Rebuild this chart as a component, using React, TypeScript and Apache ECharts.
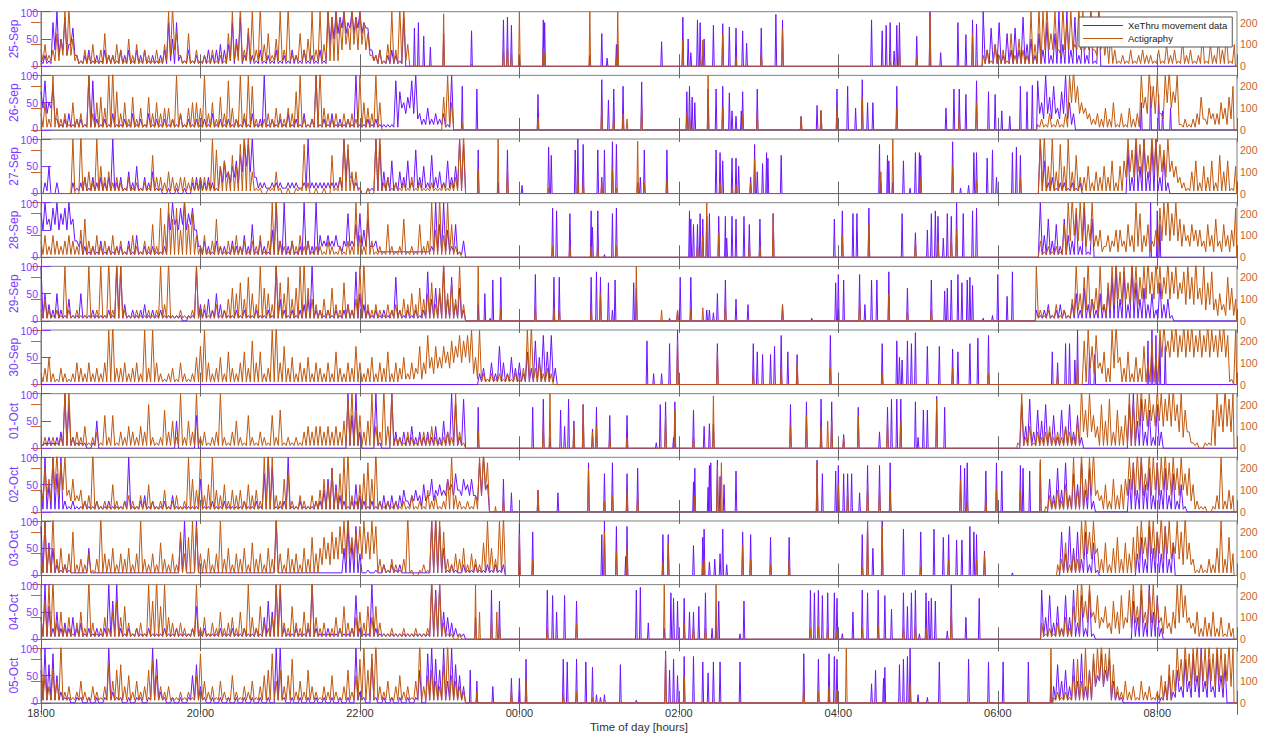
import React, { useEffect, useRef } from 'react';
import * as echarts from 'echarts';

// ---------- data ----------
const dayLabels = ['25-Sep', '26-Sep', '27-Sep', '28-Sep', '29-Sep', '30-Sep', '01-Oct', '02-Oct', '03-Oct', '04-Oct', '05-Oct'];
const timeLabels = ['18:00', '20:00', '22:00', '00:00', '02:00', '04:00', '06:00', '08:00'];
const legendNames = ['XeThru movement data', 'Actigraphy'];

// Dense stretches: [start minute after 18:00, peak of each 3-min bin, trough of each bin (one char = same for all)].
// Each character is a level in tenths of the panel height: '.' = 0.5, 0-9, A = 10, B = 11.
const xethruDense: [number, string, string][][] = [
  [[0, '121 8A5947 212312132 213231323 1212 3858 213121 232343 485926 21312131213 21312131A9A 9A8A9A87 3 2312321 90',
       '... 323243 ......... ......... .... .1.1 ...... ...... 1.2.1. ........... ........456 76767676 1 ....... 00'],
   [709, 'A37482637394526 3826A4A39272A1A0', '.']],
  [[0, '7958212312 21A9212131 1213121312 1212131212 1213121212 121312A121 213121312A 121312121A 1121211119 7569A32423 231A0',
       '4343...... .......... .......... .......... .......... .......... .......... .......... .......... 4343211111 1..10'],
   [750, '95A6847A530', '32323232100']],
  [[0, '0250200021 23132323A2 3142513241 1010101023 3232156456 7A9A322122 2122212A22 222223A832 1011A94362 4362835273 42635A90',
       '.......... .......... .......... .......... .....23232 4545111111 1111111111 1111113411 .......... 1111111111 11111110'],
   [749, '0A6231221212 00000000000 8395A49A3720', '.']],
  [[0, '8A79A89A73 3212131212 2131412121 128A79A895 2321322132 242613215A 3A2312A32A 4343423836 8572311111 111111112A 6A526130',
       '5656565632 .......... .......... ..56565653 .......... .......... .......... 2222212222 2222111111 1111111111 1111..00'],
   [749, '0A473627438291700', '.']],
  [[0, 'A532521411 511211121A A312123121 211111011A 3242532112 121121121A 42121234A2 2121212329 5321212128 2121212946 5A483620', '.'],
   [749, '212312321 3526342536 8A493A74 6352734100', '.']],
  [[327, '0231427425342638596930', '.']],
  [[0, '112123A821 1101500000 0000000000 0000500006 0000000000 0000000000 0000000000 0000000A6A 3000A100A3 2324232324 253A8290', '.'],
   [735, '0849375836 2748362000 00000000 8A593728300', '.']],
  [[0, '4A5A7A2121 1211211211 12A1123121 1213111111 6112112111 1211217A81 12A1121112 2468532125 3212123232 3423435364 5465746563 9A50',
       '.......... .......... .......... .......... .......... .......... .......... .......... .......... 1212212323 3343434342 3420'],
   [756, '0638493759 4820000000 0694A58394 8372510', '.']],
  [[0, '9A652121.. ..5....... .......... .....7A..A .......... .........A .......... ......5A69 4.1.1.2121 2.......AA 95121.2112 11212120', '.'],
   [765, '0849583826 1000000000 47395849360', '.']],
  [[0, '4A62523242 3121212A7A 2121211211 1211211126 1211121121 121121475A 92112112A2 1121121128 211A211111 11111111A9 A5432110', '.'],
   [753, '9483628493 8291000000 0007493A58200', '.']],
  [[0, '6A79521101 1010101A21 10101101A8 2101010157 3101010101 010101010A A101010101 010101010A 2108101010 10101609A8 6A4A7530', '.'],
   [762, '3746384936 8596842100 0000000135 2638495A48 39570', '.......... 3434...... .......... 1212121212 1212.']],
];

const actigraphyDense: [number, string, string][][] = [
  [[0, '342 365AB5 213241362 243152413 2131 4AB6 216131 213121 6A4B37 A3B4625A3B2 2635A3A4B9A 8A7B9A86 2 2314A3B B40',
       '111 112221 ......... ......... .... 1232 ...... ...... 111111 11111111111 11111111111 34343434 1 ....... 100'],
   [709, '231423162532A4B AB6A3B8A4BA7A3B6 56312131232 2131423152312614253614',
         '............... 3333233333333232 ........... ......................']],
  [[0, '352A423152 31A3564AB7 3526241635 3442A31455 4A35263942 A3A8212324 32437A212A B432313232 A543A50000 0000000000 06A50', '.'],
   [750, '12131213 AB8 5432 32425131423 A6B8A3 AB7A 1212 36243 35468',
         '........ 553 3211 ........... 434332 5454 .... 12121 12121']],
  [[0, '00000000A0 B342A53423 2131212173 3243233232 332A856475 9AB4110114 1010119201 010713A944 1010AB2312 1213121121 12123AB0', '.'],
   [749, '0AB5A495A473 3524353625 6A8B9A7BA9 8A653 2146 2536274615',
         '0........... .......... 3434343434 34321 .... ..........']],
  [[0, '3424323432 5732423242 3124213262 96A795B684 2413721324 23132413AB 3213242312 213212132A 42A3121621 27121623A5 B4A62100', '.'],
   [749, '03121216AB9 AB6A452435 5364A84635 9AB8A76465 5364736459',
         '0.......343 3232212121 2121212121 3434323232 2121212121']],
  [[0, '242121A212 11A12A1B2B A211211212 A3B112112A 2312312465 74853A653B 75846AB643 2426327324 AB32321323 2435364573 6B574A30', '.'],
   [749, 'A21213121 4A58B46A37 AB9A7BA8 AB9BA8B9A7 9A8B6A79453864',
         '......... 1212121212 34343434 4545454545 34343232121212']],
  [[0, '2352132124 3242324AB3 342342A3A4 2123142125 7A42352632 46384623AB 4735243524 3242632437 4235243624 3524374957 57687989A5 A212121212 13AB342320',
       '.......... .......... .......... .......... .......... .......... .......... .......... .......... 1111212323 3434545421 .......... ..........'],
   [782, '08A79463AB 5362537485 AB8AB9BAB9 A9BA9AB91A', '0.3232..34 .......... 5656565656 5656565.05']],
  [[0, '121212AB23 2412316261 3243243821 27352A253A 23123A2135 2162132162 7121213434 43434359B7 635A43B4A2 2132123242 1232A310', '.'],
   [735, '1A24132342 324325B7A6 48593746A8 AB9A8BA9AB 8A73110117 A8B9A',
         '.......... ......3232 .......... 4545454545 3232...... 43434']],
  [[0, '586AB9A463 423B212152 1232132521 2412312A64 A35A435243 425342ABA3 2672132132 465847AB32 5796B21212 1213121423 126A321213 AB90',
       '2324343222 .......... .......... .......... .......... .......... .......... .......... .......... .......... .......... 3430'],
   [756, '1324253A4B 6AB4352635 6A9BA7BA9A B9A8A78521 1013A243',
         '.......... 2332...... 3434343434 4343432... ........']],
  [[0, '4A5B352482 32413B4352 43524A3242 63242847A9 43524A3524 352634253B 4253425374 576879AB78 9A8A932132 13B10121AB A832435243 26A53AB0',
       '.......... .......... .......... .......... .......... .......... .......... 2323343434 3434...... .......... .......... ........'],
   [765, '236243AB8A 5362573647 9A7BA8B9A6 A8B6312132 5A374',
         '......3434 .......... 3434343434 3232...... .....']],
  [[0, '47AB352413 52B3124257 4631231A7B 6A4323212A 2413252342 52A426324A B3263253B4 2312426324 5364631121 12112112B8 A3110100', '.'],
   [753, '312132426A B7A5846375 849A6B59A7 4635AB8435 243524132',
         '........3. 4343232121 2323232323 121234321. .........']],
  [[0, 'A5364B2312 4213213746 7352423685 3231121215 9423142152 1324135694 6358242632 1325213625 8A69B32413 52314B3564 37B54320', '.'],
   [762, '12121584A6 9AB9A73242 3142312547 6A8B9AB9AB 9BA9BA',
         '.......... 3434...... .......... 2434343434 343434']],
];

// Isolated movement spikes: [minute after 18:00, XeThru value (0-100), Actigraphy count (0-250)] repeated.
const spikeEvents: number[][] = [
  [281,70,0, 284,80,0, 288,55,0, 293,35,0, 303,60,240, 324,65,10, 348,85,75, 351,90,100, 354,75,60, 360,20,250, 378,85,80, 379,80,60, 413,20,250, 422,60,0, 426,15,0, 433,40,30, 434,40,250, 467,45,0, 483,90,120, 487,50,0, 489,25,0, 494,85,0, 496,80,25, 498,20,120, 499,50,0, 506,75,0, 513,78,150, 518,72,0, 523,70,40, 528,65,0, 531,42,0, 542,70,60, 553,95,0, 558,85,170, 625,85,0, 633,65,0, 636,75,0, 639,80,20, 642,28,0, 644,75,0, 646,80,70, 659,55,40, 669,100,240, 677,25,0, 690,80,0, 696,58,0, 701,85,150, 704,77,0],
  [317,80,30, 328,75,0, 374,65,60, 422,92,100, 427,55,0, 431,75,60, 438,80,75, 441,0,50, 452,88,100, 486,70,75, 488,80,60, 490,60,0, 492,50,0, 502,75,250, 508,75,0, 513,80,100, 518,68,0, 520,35,0, 523,25,0, 527,35,0, 528,70,75, 539,75,75, 572,25,60, 584,45,0, 587,35,90, 599,75,100, 607,80,0, 613,40,0, 618,92,150, 622,50,0, 626,50,0, 644,80,100, 681,40,0, 687,75,0, 691,75,75, 696,65,0, 704,90,125, 713,70,0, 718,65,0, 723,35,0, 729,25,0, 737,80,0, 742,70,0, 746,82,0, 828,50,0, 835,80,0, 841,65,0, 844,35,0, 850,40,0],
  [329,80,110, 344,20,250, 351,80,110, 362,15,0, 382,85,25, 384,70,0, 402,80,0, 404,100,100, 408,90,50, 419,80,0, 422,30,50, 424,80,0, 430,95,110, 433,90,25, 449,20,240, 451,30,0, 454,80,50, 471,80,60, 508,80,0, 511,75,50, 513,60,0, 520,65,25, 523,65,40, 525,50,0, 534,30,50, 537,90,160, 539,40,0, 543,55,0, 546,75,0, 547,65,0, 557,70,0, 631,90,0, 632,20,100, 637,70,0, 638,60,0, 641,20,250, 649,60,0, 654,10,0, 658,75,0, 661,75,0, 662,70,75, 686,95,125, 692,10,0, 698,15,0, 702,75,0, 704,75,60, 712,65,0, 716,80,0, 719,30,0, 731,75,0, 734,85,0, 737,70,75],
  [385,90,50, 388,85,0, 398,80,50, 414,85,50, 415,55,0, 419,85,50, 424,5,0, 430,80,0, 433,90,50, 488,85,0, 489,70,0, 491,60,0, 494,60,50, 496,80,0, 498,70,100, 501,75,250, 503,80,0, 510,75,110, 515,75,0, 516,35,0, 520,75,0, 523,70,0, 529,75,0, 533,60,50, 541,70,50, 551,80,200, 597,70,0, 603,85,100, 611,80,0, 614,80,0, 623,90,150, 648,80,0, 658,45,75, 667,50,0, 670,80,0, 673,85,0, 675,75,75, 679,35,0, 682,80,0, 685,75,100, 689,100,125, 694,80,0, 701,85,0, 704,90,0, 835,100,0, 840,85,0, 842,60,0],
  [329,30,250, 334,50,0, 338,5,0, 340,75,0, 346,80,50, 372,85,60, 386,80,60, 390,80,50, 414,80,50, 418,90,0, 421,80,125, 427,70,0, 430,20,0, 432,75,0, 446,70,0, 448,60,250, 467,0,50, 473,5,0, 479,20,50, 481,80,0, 489,80,50, 498,0,60, 501,20,0, 503,20,0, 506,15,0, 509,50,0, 515,75,75, 523,40,0, 532,30,0, 558,30,75, 580,5,0, 598,70,0, 600,85,0, 604,75,0, 616,85,90, 620,30,0, 625,75,0, 629,75,0, 638,90,125, 652,60,40, 670,75,50, 680,55,0, 682,60,0, 685,75,0, 690,85,0, 693,70,0, 697,75,0, 699,80,0, 701,65,0, 709,5,0, 716,10,0, 720,85,0, 727,45,0, 731,90,0],
  [456,80,0, 461,20,0, 467,20,0, 473,75,0, 479,100,200, 509,75,150, 536,75,50, 539,60,0, 543,55,0, 549,55,0, 552,70,0, 557,90,75, 562,60,0, 569,55,100, 594,90,75, 633,75,50, 644,80,0, 646,50,0, 648,45,0, 652,80,0, 655,75,0, 658,95,0, 667,70,0, 676,70,0, 686,65,75, 690,60,0, 699,75,0, 705,85,0, 713,90,50, 761,60,0, 765,40,50, 771,75,0, 774,75,0, 778,45,0, 780,100,120, 789,60,0, 793,55,0, 833,80,0, 836,100,0, 839,90,0, 842,85,0, 846,70,0],
  [329,75,75, 370,75,0, 378,90,100, 383,20,250, 391,70,0, 394,40,0, 397,90,0, 401,50,100, 408,80,200, 415,35,75, 418,75,100, 428,60,50, 441,60,50, 463,10,0, 466,80,0, 470,85,150, 476,20,0, 477,85,175, 491,70,50, 499,40,0, 503,45,0, 506,45,240, 564,80,100, 576,85,150, 587,90,100, 592,0,125, 595,85,125, 604,25,50, 615,75,150, 631,30,0, 637,75,125, 640,90,0, 644,90,0, 647,90,125, 658,85,0, 660,20,0, 664,70,0, 667,70,0, 674,95,225, 680,75,0],
  [342,0,25, 348,60,60, 354,35,0, 374,40,100, 389,35,0, 412,90,200, 424,70,50, 430,90,75, 441,70,90, 449,80,75, 491,55,0, 492,80,75, 502,45,0, 503,85,0, 504,90,0, 509,95,210, 511,65,0, 512,0,225, 514,50,0, 523,75,0, 584,95,225, 588,70,0, 598,75,0, 600,85,125, 604,70,0, 607,70,90, 610,70,0, 616,35,0, 622,85,125, 631,85,100, 639,90,100, 692,85,150, 695,80,0, 697,90,50, 711,75,50, 719,90,100, 723,75,0, 737,85,100, 739,80,0, 744,75,0, 752,90,240],
  [360,95,190, 370,80,75, 422,75,0, 424,100,200, 433,90,110, 440,35,0, 441,90,125, 468,75,60, 472,75,150, 491,55,0, 498,70,50, 499,85,75, 503,25,0, 507,30,0, 511,40,0, 513,85,0, 516,20,0, 528,80,140, 534,75,75, 549,70,50, 563,70,75, 618,75,40, 622,100,250, 626,50,0, 633,100,225, 649,85,0, 662,80,40, 672,85,0, 679,70,0, 683,75,75, 689,65,0, 693,65,0, 699,90,0, 702,80,0, 704,75,75, 710,45,100, 731,5,0],
  [327,40,250, 330,0,125, 339,90,90, 343,0,125, 345,70,75, 381,90,50, 385,80,0, 388,50,0, 394,80,0, 403,70,75, 448,90,0, 451,95,0, 457,30,0, 469,20,250, 474,85,0, 476,75,0, 479,70,0, 484,75,75, 488,50,0, 491,50,60, 495,60,0, 500,85,50, 505,20,0, 508,30,250, 510,70,0, 526,10,0, 529,70,0, 579,90,50, 582,85,0, 585,90,60, 588,80,0, 592,85,50, 597,85,0, 599,75,40, 603,10,0, 611,50,0, 618,90,50, 622,85,0, 630,90,60, 635,80,0, 640,55,0, 649,85,50, 652,60,0, 655,85,0, 658,90,60, 661,10,0, 666,85,50, 668,70,0, 670,75,0, 673,70,0, 682,15,0, 685,100,140, 696,40,0, 706,75,0],
  [323,60,0, 328,40,50, 340,30,0, 354,45,60, 360,45,0, 365,80,110, 393,80,40, 396,75,0, 403,80,50, 410,75,0, 415,65,25, 418,15,0, 421,10,0, 424,15,0, 436,70,0, 448,5,0, 470,95,225, 473,60,0, 476,80,0, 479,50,0, 484,85,125, 491,85,0, 498,75,0, 502,55,0, 506,75,0, 511,75,0, 526,75,0, 574,90,60, 585,80,50, 593,90,75, 597,85,0, 599,80,60, 606,0,250, 625,35,0, 628,60,0, 634,45,0, 635,65,0, 646,70,0, 649,80,0, 652,85,0, 654,100,90, 660,15,0, 667,10,0, 676,75,0, 698,80,0, 713,75,0, 724,75,0, 743,75,0, 760,30,250],
];

// ---------- styling constants ----------
const BLUE = '#6A14FF';
const ORANGE = '#C0580E';
const BLUE_TEXT = '#7A3CFF';
const ORANGE_TEXT = '#C8652A';
const FONT = 'Liberation Sans, Arial, sans-serif';
const STEP = 3;
const T_MAX = 900;

function level(c: string): number {
  if (c === '.') return 0.5;
  if (c >= '0' && c <= '9') return c.charCodeAt(0) - 48;
  return c.charCodeAt(0) - 55; // A=10, B=11
}

function buildSeries(segs: [number, string, string][], events: number[], col: number, unit: number, cap: number) {
  const pts: [number, number][] = [];
  for (const [start, s, tr] of segs) {
    const peaks = s.replace(/\s+/g, '');
    const troughs = tr.replace(/\s+/g, '');
    if (start > 0) pts.push([start - 0.8, 0]);
    for (let k = 0; k < peaks.length; k++) {
      const p = level(peaks[k]);
      pts.push([start + STEP * k, Math.min(p * unit, cap)]);
      if (k < peaks.length - 1) {
        const tc = troughs.length === 1 ? troughs : (troughs[k] ?? '.');
        const q = Math.min(level(tc), p, level(peaks[k + 1]));
        pts.push([start + STEP * k + STEP / 2, Math.min(q * unit, cap)]);
      }
    }
    const end = start + STEP * (peaks.length - 1);
    if (end + 0.8 < T_MAX && level(peaks[peaks.length - 1]) > 0) pts.push([end + 0.8, 0]);
  }
  for (let j = 0; j + 2 < events.length; j += 3) {
    const t = events[j];
    const v = events[j + col];
    if (v > 0) pts.push([t - 0.6, 0], [t, v], [t + 0.6, 0]);
  }
  pts.sort((a, b) => a[0] - b[0]);
  if (!pts.length || pts[0][0] > 0) pts.unshift([0, 0]);
  const lastPt = pts[pts.length - 1];
  if (lastPt[0] < T_MAX && lastPt[1] === 0) pts.push([T_MAX, 0]);
  return pts;
}

export default function App() {
  const ref = useRef<HTMLDivElement>(null);

  useEffect(() => {
    if (!ref.current) return;
    const chart = echarts.init(ref.current, null, { renderer: 'svg' });
    const N = dayLabels.length;
    const top0 = 11.7;
    const pitch = 63.66;
    const h = 54.6;
    const grids: any[] = [];
    const xAxes: any[] = [];
    const yAxes: any[] = [];
    const series: any[] = [];
    const graphics: any[] = [];

    for (let i = 0; i < N; i++) {
      const last = i === N - 1;
      const top = top0 + i * pitch;
      grids.push({
        left: 41, width: 1196, top, height: h,
        containLabel: false, outerBoundsMode: 'none',
        show: true, borderColor: '#808080', borderWidth: 1, backgroundColor: 'transparent',
      });
      graphics.push({
        type: 'text', x: 14, y: top + h / 2, rotation: Math.PI / 2, silent: true,
        style: {
          text: dayLabels[i], fill: BLUE_TEXT, font: `12px ${FONT}`,
          textAlign: 'center', textVerticalAlign: 'middle',
        },
      });
      xAxes.push({
        type: 'value', gridIndex: i, min: 0, max: T_MAX, interval: 120, position: 'bottom',
        axisLine: { show: true, lineStyle: { color: '#808080', width: 1 } },
        axisTick: { show: true, inside: true, length: 12, lineStyle: { color: '#666' } },
        axisLabel: {
          show: last, color: '#333', fontSize: 11, fontFamily: FONT, margin: 5,
          formatter: (v: number) => (v % 120 === 0 && v < T_MAX ? timeLabels[v / 120] : ''),
        },
        splitLine: { show: false },
        name: last ? 'Time of day [hours]' : '',
        nameLocation: 'middle', nameGap: 18,
        nameTextStyle: { color: '#333', fontSize: 11.5, fontFamily: FONT },
      });
      xAxes.push({
        type: 'value', gridIndex: i, min: 0, max: T_MAX, interval: 120, position: 'top',
        axisLine: { show: false },
        axisTick: { show: true, inside: true, length: 12, lineStyle: { color: '#666' } },
        axisLabel: { show: false },
        splitLine: { show: false },
      });
      yAxes.push({
        type: 'value', gridIndex: i, min: 0, max: 100, interval: 50, position: 'left',
        axisLine: { show: true, lineStyle: { color: BLUE_TEXT, width: 1 } },
        axisTick: { show: true, inside: true, length: 10, lineStyle: { color: BLUE_TEXT } },
        axisLabel: {
          color: BLUE_TEXT, fontSize: 10.5, fontFamily: FONT, margin: 3,
          formatter: (v: number) => (v === 0 ? '{lo|0}' : v === 100 ? '{hi|100}' : String(v)),
          rich: {
            lo: { color: BLUE_TEXT, fontSize: 10.5, fontFamily: FONT, lineHeight: 9, padding: [0, 0, 3, 0] },
            hi: { color: BLUE_TEXT, fontSize: 10.5, fontFamily: FONT, lineHeight: 9, padding: [2, 0, 0, 0] },
          },
        },
        splitLine: { show: false },
      });
      yAxes.push({
        type: 'value', gridIndex: i, min: 0, max: 250, interval: 100, position: 'right',
        axisLine: { show: true, lineStyle: { color: ORANGE_TEXT, width: 1 } },
        axisTick: { show: true, inside: true, length: 10, lineStyle: { color: ORANGE_TEXT } },
        axisLabel: {
          color: ORANGE_TEXT, fontSize: 10.5, fontFamily: FONT, margin: 3,
          formatter: (v: number) => (v > 200 ? '' : String(v)),
        },
        splitLine: { show: false },
      });
      series.push({
        type: 'line', name: legendNames[0], xAxisIndex: 2 * i, yAxisIndex: 2 * i,
        data: buildSeries(xethruDense[i], spikeEvents[i], 1, 10, 100),
        showSymbol: false, symbol: 'none', clip: true, silent: true,
        lineStyle: { width: 1, color: BLUE }, itemStyle: { color: BLUE }, z: 2,
      });
      series.push({
        type: 'line', name: legendNames[1], xAxisIndex: 2 * i, yAxisIndex: 2 * i + 1,
        data: buildSeries(actigraphyDense[i], spikeEvents[i], 2, 25, 275),
        showSymbol: false, symbol: 'none', clip: true, silent: true,
        lineStyle: { width: 1, color: ORANGE }, itemStyle: { color: ORANGE }, z: 3,
      });
    }

    chart.setOption({
      animation: false,
      backgroundColor: '#ffffff',
      textStyle: { fontFamily: FONT },
      legend: {
        data: legendNames, orient: 'vertical', left: 1079, top: 17,
        icon: 'rect', itemWidth: 40, itemHeight: 1, itemGap: 2,
        padding: [3, 5, 3, 4],
        backgroundColor: '#ffffff', borderColor: '#555', borderWidth: 1,
        textStyle: { fontSize: 9.5, color: '#222', fontFamily: FONT, lineHeight: 11 },
        z: 20,
      },
      grid: grids,
      xAxis: xAxes,
      yAxis: yAxes,
      series,
      graphic: graphics,
    });
    return () => chart.dispose();
  }, []);

  return <div ref={ref} style={{ position: 'fixed', left: 0, top: 0, width: 1261, height: 733, background: '#fff' }} />;
}
